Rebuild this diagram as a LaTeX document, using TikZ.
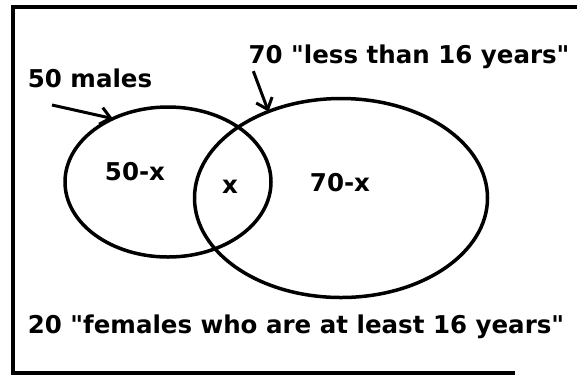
\documentclass[tikz,border=0pt]{standalone}
\usepackage{fontspec}
\setmainfont{DejaVu Sans}
\usetikzlibrary{arrows.meta,shapes.geometric}

\begin{document}
\begin{tikzpicture}[
  x=1pt, y=-1pt,
  font=\bfseries\fontsize{24.5}{28}\selectfont,
  set/.style={draw, ellipse, line width=3.5pt, inner sep=0pt, outer sep=0pt},
  label/.style={inner sep=0pt},
  arrow/.style={-{Straight Barb[length=10pt,width=17pt]}, line width=3pt},
  frame/.style={line width=4pt}
]
\useasboundingbox (0,0) rectangle (577,376);

% frame, open on the right
\draw[frame] (577,7) -- (13,7) -- (13,373) -- (515,373);

% the two sets
\node[set, minimum width=206pt, minimum height=150pt] (maleset) at (168,182) {};
\node[set, minimum width=293pt, minimum height=199pt] (youngset) at (341,198) {};

\node[label] (males) at (90,78) {50 males};
\node[label] (young) at (409,57) {70 \textquotedbl less than 16 years\textquotedbl};
\node[label] (onlymale) at (135,172) {50-x};
\node[label] (both) at (230,187) {x};
\node[label] (onlyyoung) at (340,183) {70-x};
\node[label] (females) at (296,327) {20 \textquotedbl females who are at least 16 years\textquotedbl};

\draw[arrow] ([shift={(-38,27)}]males.center) -- (maleset.131);
\draw[arrow] ([shift={(5,2)}]young.south west) -- (youngset.130);

\end{tikzpicture}
\end{document}
